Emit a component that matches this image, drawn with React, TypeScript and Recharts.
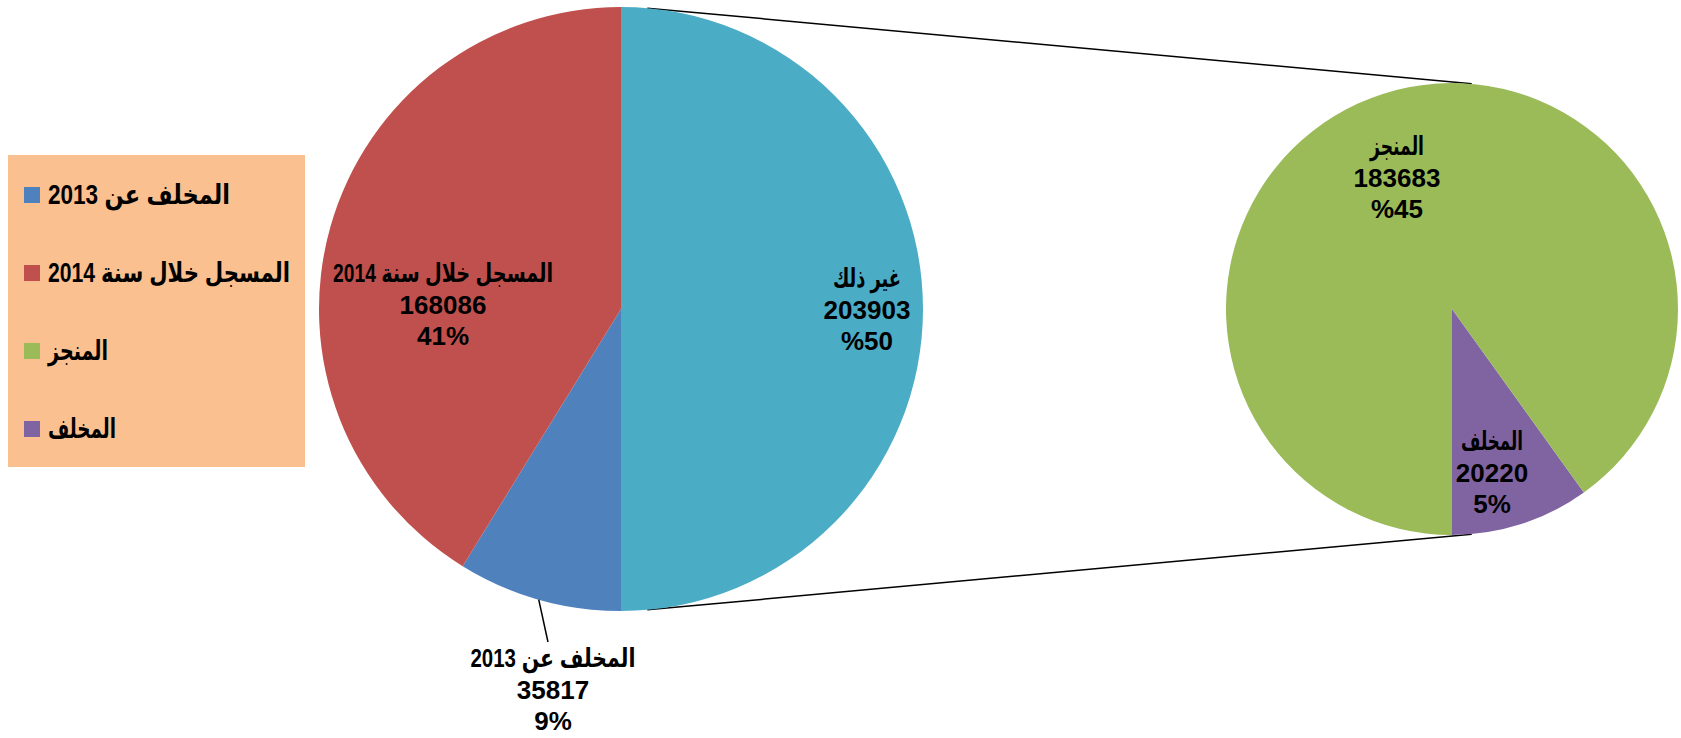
import React from 'react';
import { PieChart, Pie, Cell, Legend, Customized } from 'recharts';

// main pie (clockwise from 12 o'clock)
const mainNames = ['غير ذلك', 'المخلف عن 2013', 'المسجل خلال سنة 2014'];
const mainValues = [203903, 35817, 168086];
const mainColors = ['#4BACC6', '#4F81BD', '#C0504D'];

// second pie: breakdown of "غير ذلك" (counter-clockwise from 6 o'clock)
const subNames = ['المخلف', 'المنجز'];
const subValues = [20220, 183683];
const subColors = ['#8064A2', '#9BBB59'];

const legendOrder = ['المخلف عن 2013', 'المسجل خلال سنة 2014', 'المنجز', 'المخلف'];
// labels where the percent sign is shown before the number
const percentFirst = ['غير ذلك', 'المنجز'];

const TOTAL = mainValues.reduce((a, b) => a + b, 0);

const mainData = mainNames.map((name, i) => ({ name, value: mainValues[i] }));
const subData = subNames.map((name, i) => ({ name, value: subValues[i] }));

const W = 1681;
const H = 738;
const MAIN = { cx: 621, cy: 309, r: 302 };
const SUB = { cx: 1452, cy: 309, r: 226 };
const RAD = Math.PI / 180;
const FONT = '"Liberation Sans", "DejaVu Sans", Arial, sans-serif';

// fallback Arabic font is wider than the original, so fix the rendered widths
const labelWidth: Record<string, number> = {
  'غير ذلك': 68,
  'المسجل خلال سنة 2014': 220,
  'المخلف عن 2013': 165,
  'المنجز': 54,
  'المخلف': 62,
};
const legendWidth: Record<string, number> = {
  'المخلف عن 2013': 182,
  'المسجل خلال سنة 2014': 242,
  'المنجز': 60,
  'المخلف': 68,
};

// label centre offsets from the pie centre
const labelOffset: Record<string, [number, number]> = {
  'غير ذلك': [246, 1],
  'المسجل خلال سنة 2014': [-178, -4],
  'المخلف عن 2013': [-68, 381],
  'المنجز': [-55, -131],
  'المخلف': [40, 164],
};

const renderLabel = (center: { cx: number; cy: number; r: number }) => (props: any) => {
  const name: string = props.name ?? props.payload?.name;
  const value: number = props.value ?? props.payload?.value;
  const off = labelOffset[name] || [0, 0];
  const x = center.cx + off[0];
  const y = center.cy + off[1];
  const pct = Math.round((value / TOTAL) * 100);
  const pctText = percentFirst.includes(name) ? `%${pct}` : `${pct}%`;
  const outside = name === 'المخلف عن 2013';
  let leader = null;
  if (outside) {
    const mid = props.midAngle;
    const ex = center.cx + center.r * Math.cos(-mid * RAD);
    const ey = center.cy + center.r * Math.sin(-mid * RAD);
    leader = <line x1={ex} y1={ey} x2={x - 5} y2={y - 48} stroke="#000" strokeWidth={1.5} />;
  }
  const common = {
    textAnchor: 'middle' as const,
    dominantBaseline: 'central' as const,
    fill: '#000',
    fontFamily: FONT,
    fontWeight: 'bold',
    fontSize: 26,
  };
  return (
    <g key={`lbl-${name}`}>
      {leader}
      <text {...common} x={x} y={y - 32} textLength={labelWidth[name]} lengthAdjust="spacingAndGlyphs">
        {name}
      </text>
      <text {...common} x={x} y={y}>
        {value}
      </text>
      <text {...common} x={x} y={y + 31}>
        {pctText}
      </text>
    </g>
  );
};

const Connectors = () => {
  const a = 85 * RAD;
  const pts = [1, -1].map((s) => ({
    x1: MAIN.cx + MAIN.r * Math.cos(a),
    y1: MAIN.cy - s * MAIN.r * Math.sin(a),
    x2: SUB.cx + SUB.r * Math.cos(a),
    y2: SUB.cy - s * SUB.r * Math.sin(a),
  }));
  return (
    <g>
      {pts.map((p, i) => (
        <line key={i} {...p} stroke="#000" strokeWidth={1.5} />
      ))}
    </g>
  );
};

const LegendBox = (props: any) => {
  const payload: any[] = props.payload || [];
  let items = legendOrder.map((n) => {
    const p = payload.find((q) => q.value === n);
    return p ? { name: n, color: p.color } : null;
  }).filter(Boolean) as { name: string; color: string }[];
  if (items.length < legendOrder.length) {
    const allNames = [...mainNames, ...subNames];
    const allColors = [...mainColors, ...subColors];
    items = legendOrder.map((n) => ({ name: n, color: allColors[allNames.indexOf(n)] }));
  }
  return (
    <div style={{ background: '#FAC090', width: 297, height: 312, paddingTop: 1, boxSizing: 'border-box' }}>
      {items.map((it) => (
        <div key={it.name} style={{ height: 78, display: 'flex', alignItems: 'center', paddingLeft: 16 }}>
          <span style={{ width: 16, height: 16, flexShrink: 0, background: it.color, display: 'inline-block', marginRight: 8 }} />
          <svg width={260} height={40} style={{ display: 'block', overflow: 'visible' }}>
            <text
              x={0}
              y={20}
              dominantBaseline="central"
              fontFamily={FONT}
              fontWeight="bold"
              fontSize={27}
              fill="#000"
              textLength={legendWidth[it.name]}
              lengthAdjust="spacingAndGlyphs"
            >
              {it.name}
            </text>
          </svg>
        </div>
      ))}
    </div>
  );
};

export default function App() {
  return (
    <div style={{ position: 'absolute', left: 0, top: 0, width: W, height: H, background: '#fff' }}>
      <PieChart width={W} height={H} margin={{ top: 0, right: 0, bottom: 0, left: 0 }}>
        <Customized component={Connectors} />
        <Pie
          data={mainData}
          dataKey="value"
          nameKey="name"
          cx={MAIN.cx}
          cy={MAIN.cy}
          outerRadius={MAIN.r}
          startAngle={90}
          endAngle={-270}
          stroke="none"
          label={renderLabel(MAIN)}
          labelLine={false}
          isAnimationActive={false}
        >
          {mainData.map((d, i) => (
            <Cell key={d.name} fill={mainColors[i]} />
          ))}
        </Pie>
        <Pie
          data={subData}
          dataKey="value"
          nameKey="name"
          cx={SUB.cx}
          cy={SUB.cy}
          outerRadius={SUB.r}
          startAngle={-90}
          endAngle={270}
          stroke="none"
          label={renderLabel(SUB)}
          labelLine={false}
          isAnimationActive={false}
        >
          {subData.map((d, i) => (
            <Cell key={d.name} fill={subColors[i]} />
          ))}
        </Pie>
        <Legend
          content={LegendBox}
          wrapperStyle={{ position: 'absolute', left: 8, top: 155, width: 297, height: 312 }}
        />
      </PieChart>
    </div>
  );
}
